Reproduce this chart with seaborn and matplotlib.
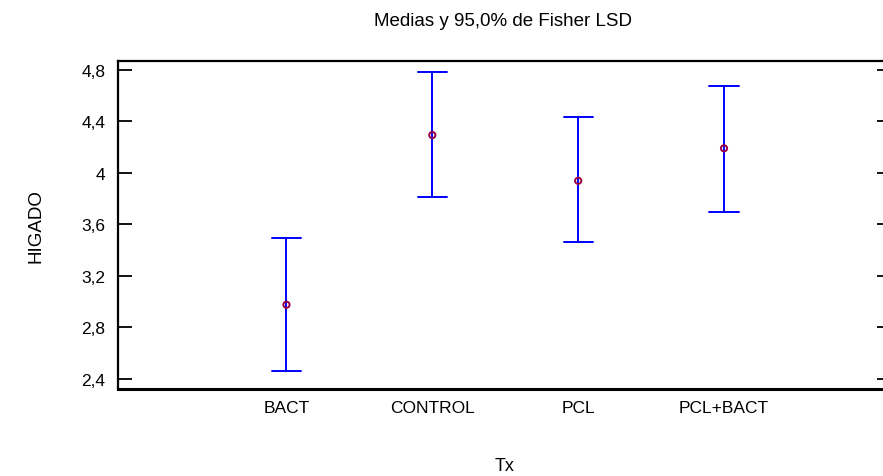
import numpy as np
import pandas as pd
import matplotlib
matplotlib.use("Agg")
import matplotlib.pyplot as plt
import seaborn as sns

categories = ["BACT", "CONTROL", "PCL", "PCL+BACT"]
means = [2.976, 4.293, 3.938, 4.190]
lower = [2.460, 3.814, 3.461, 3.698]
upper = [3.496, 4.784, 4.430, 4.671]
yticks = [2.4, 2.8, 3.2, 3.6, 4.0, 4.4, 4.8]
ytick_labels = ["2,4", "2,8", "3,2", "3,6", "4", "4,4", "4,8"]

sns.set_theme(style="white")
plt.rcParams["font.family"] = ["Liberation Sans", "DejaVu Sans"]

# long table: lower / mean / upper for each category; median = mean, range = interval
df = pd.DataFrame({
    "Tx": np.repeat(categories, 3),
    "HIGADO": np.ravel(np.column_stack([lower, means, upper])),
})

fig = plt.figure(figsize=(8.83, 4.77), dpi=100)
ax = fig.add_axes([118 / 883, 1 - 390 / 477, (891 - 118) / 883, (390 - 61.7) / 477])

sns.pointplot(data=df, x="Tx", y="HIGADO", order=categories, estimator="median",
              errorbar=lambda v: (v.min(), v.max()), capsize=0.2,
              color="#0000FF", linestyle="none", marker="none",
              err_kws={"linewidth": 1.4}, ax=ax)
sns.scatterplot(x=np.arange(len(categories)), y=means, marker="o", s=20,
                facecolor="none", edgecolor="#990044", linewidth=1.4, ax=ax, zorder=5)

ax.set_xlim(-1.155, 4.145)
ax.set_ylim(2.322, 4.870)
ax.set_yticks(yticks)
ax.set_yticklabels(ytick_labels)
ax.set_xticks(range(len(categories)))
ax.set_xticklabels(categories)

ax.tick_params(axis="y", which="both", direction="in", length=10, width=1.3,
               left=True, right=True, labelsize=12.5, colors="black", pad=9)
ax.tick_params(axis="x", length=0, labelsize=12.5, colors="black", pad=8)

for side in ["left", "top", "bottom", "right"]:
    ax.spines[side].set_visible(True)
    ax.spines[side].set_color("black")
ax.spines["left"].set_linewidth(1.6)
ax.spines["top"].set_linewidth(1.6)
ax.spines["bottom"].set_linewidth(2.2)
ax.spines["right"].set_linewidth(1.6)

ax.set_xlabel("Tx", fontsize=13, labelpad=30, color="black")
ax.set_ylabel("HIGADO", fontsize=13.5, labelpad=27, color="black")
ax.set_title("Medias y 95,0% de Fisher LSD", fontsize=13.5, pad=26, color="black",
             x=(503 - 118) / (891 - 118))
ax.grid(False)

fig.savefig("out.png", dpi=100)
